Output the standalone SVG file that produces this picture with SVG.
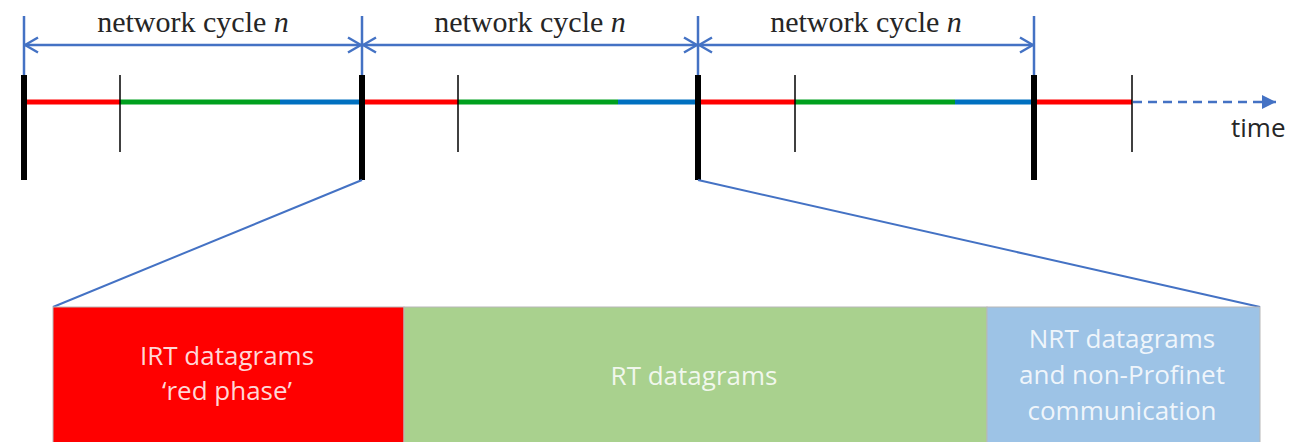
<svg xmlns="http://www.w3.org/2000/svg" width="1304" height="442" viewBox="0 0 1304 442">
  <style>
    .cycle { font-family: "Liberation Serif", "Times New Roman", serif; font-size: 30px; fill: #262626; text-anchor: middle; }
    .cycle .n { font-style: italic; }
    .dim { stroke: #4472C4; stroke-width: 2.5; fill: none; }
    .lead { stroke: #4472C4; stroke-width: 2; fill: none; }
    .bar { stroke: #000; stroke-width: 6; }
    .tick { stroke: #000; stroke-width: 1.5; }
    .seg { stroke-width: 5; fill: none; }
    .irt { stroke: #FF0000; }
    .rt { stroke: #00A01E; }
    .nrt { stroke: #0070C0; }
    .box { stroke: #B8B8B8; stroke-width: 1; }
    .label { font-family: "Open Sans", "Liberation Sans", sans-serif; font-size: 26px; fill: #FFFFFF; fill-opacity: 0.85; text-anchor: middle; }
    .time { font-family: "Open Sans", "Liberation Sans", sans-serif; font-size: 26px; fill: #262626; }
  </style>
  <defs>
    <!-- open chevron head for the cycle dimension arrows -->
    <marker id="open" viewBox="0 0 15 18" refX="14" refY="9" markerWidth="15" markerHeight="18" markerUnits="userSpaceOnUse" orient="auto-start-reverse">
      <path d="M1,1.5 L14,9 L1,16.5" fill="none" stroke="#4472C4" stroke-width="2.5"/>
    </marker>
    <!-- filled head for the time axis -->
    <marker id="solid" viewBox="0 0 14 14" refX="14" refY="7" markerWidth="14" markerHeight="14" markerUnits="userSpaceOnUse" orient="auto">
      <path d="M0,0 L14,7 L0,14 Z" fill="#4472C4"/>
    </marker>
  </defs>

  <!-- cycle dimension lines -->
  <g id="cycle-dimensions">
    <line class="dim" x1="24" y1="16" x2="24" y2="75"/>
    <line class="dim" x1="362" y1="16" x2="362" y2="75"/>
    <line class="dim" x1="698" y1="16" x2="698" y2="75"/>
    <line class="dim" x1="1034" y1="16" x2="1034" y2="75"/>
    <line class="dim" x1="25" y1="45" x2="361" y2="45" marker-start="url(#open)" marker-end="url(#open)"/>
    <line class="dim" x1="363" y1="45" x2="697" y2="45" marker-start="url(#open)" marker-end="url(#open)"/>
    <line class="dim" x1="699" y1="45" x2="1033" y2="45" marker-start="url(#open)" marker-end="url(#open)"/>
    <text class="cycle" x="193" y="32">network cycle <tspan class="n">n</tspan></text>
    <text class="cycle" x="530" y="32">network cycle <tspan class="n">n</tspan></text>
    <text class="cycle" x="866" y="32">network cycle <tspan class="n">n</tspan></text>
  </g>

  <!-- time axis with phase segments -->
  <g id="timeline">
    <line class="seg irt" x1="24" y1="102" x2="120" y2="102"/>
    <line class="seg rt" x1="120" y1="102" x2="280" y2="102"/>
    <line class="seg nrt" x1="280" y1="102" x2="362" y2="102"/>
    <line class="seg irt" x1="362" y1="102" x2="458" y2="102"/>
    <line class="seg rt" x1="458" y1="102" x2="618" y2="102"/>
    <line class="seg nrt" x1="618" y1="102" x2="698" y2="102"/>
    <line class="seg irt" x1="698" y1="102" x2="795" y2="102"/>
    <line class="seg rt" x1="795" y1="102" x2="955" y2="102"/>
    <line class="seg nrt" x1="955" y1="102" x2="1034" y2="102"/>
    <line class="seg irt" x1="1034" y1="102" x2="1132" y2="102"/>
    <line class="dim" x1="1133" y1="102" x2="1276" y2="102" stroke-dasharray="9 6" marker-end="url(#solid)"/>
    <line class="tick" x1="120" y1="75" x2="120" y2="152"/>
    <line class="tick" x1="458" y1="75" x2="458" y2="152"/>
    <line class="tick" x1="795" y1="75" x2="795" y2="152"/>
    <line class="tick" x1="1132" y1="75" x2="1132" y2="152"/>
    <line class="bar" x1="24" y1="75" x2="24" y2="180"/>
    <line class="bar" x1="362" y1="75" x2="362" y2="180"/>
    <line class="bar" x1="698" y1="75" x2="698" y2="180"/>
    <line class="bar" x1="1034" y1="75" x2="1034" y2="180"/>
    <text class="time" x="1231" y="137">time</text>
  </g>

  <!-- zoom lines from one cycle to the detail bar -->
  <g id="connectors">
    <line class="lead" x1="362" y1="180" x2="53" y2="307"/>
    <line class="lead" x1="698" y1="180" x2="1260" y2="307"/>
  </g>

  <g id="irt-phase">
    <rect class="box" x="53" y="307" width="351" height="140" fill="#FF0000"/>
    <text class="label" x="227" y="365">IRT datagrams</text>
    <text class="label" x="227" y="400">‘red phase’</text>
  </g>

  <g id="rt-phase">
    <rect class="box" x="404" y="307" width="583" height="140" fill="#A9D18E"/>
    <text class="label" x="694" y="385">RT datagrams</text>
  </g>

  <g id="nrt-phase">
    <rect class="box" x="987" y="307" width="273" height="140" fill="#9DC3E6"/>
    <text class="label" x="1122" y="348">NRT datagrams</text>
    <text class="label" x="1122" y="384">and non-Profinet</text>
    <text class="label" x="1122" y="420">communication</text>
  </g>
</svg>
